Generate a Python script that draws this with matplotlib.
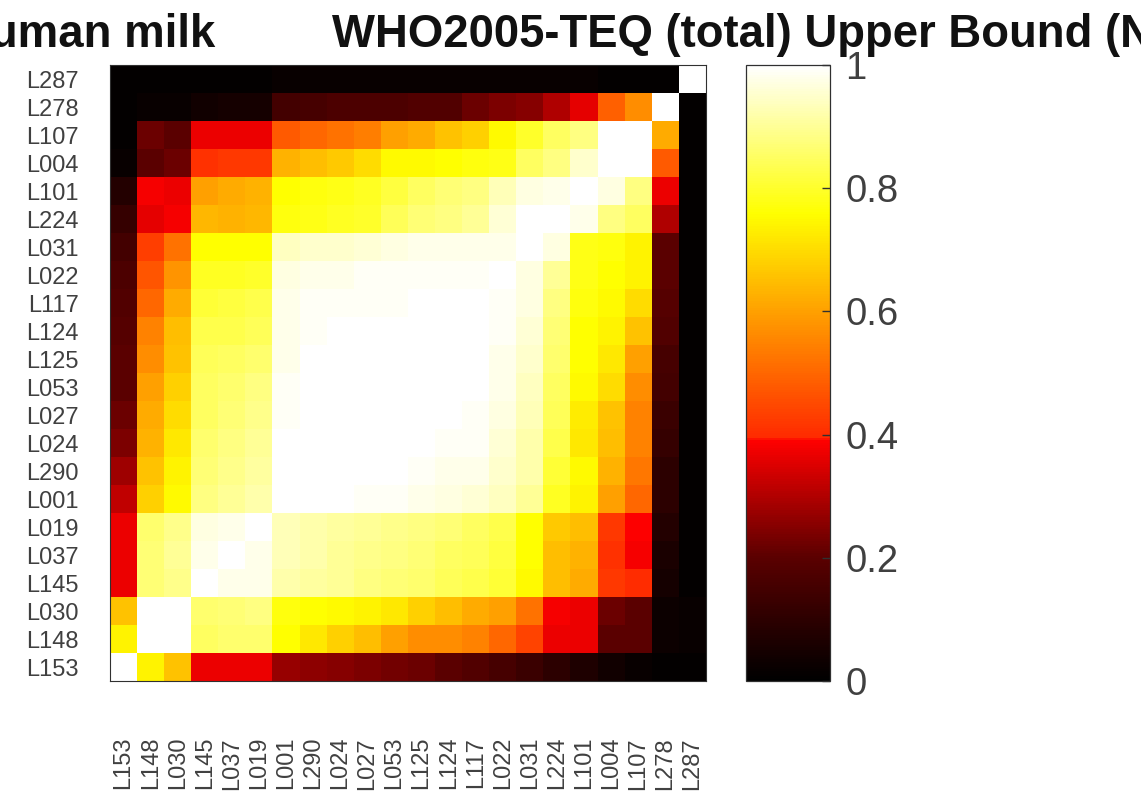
import matplotlib
matplotlib.use("Agg")
import matplotlib.pyplot as plt
import numpy as np
from matplotlib.colors import LinearSegmentedColormap

plt.rcParams['font.family'] = ['Liberation Sans', 'DejaVu Sans']

labels = ["L153","L148","L030","L145","L037","L019","L001","L290","L024","L027","L053",
          "L125","L124","L117","L022","L031","L224","L101","L004","L107","L278","L287"]

# rows listed top to bottom, columns left to right
values = [
 [.01,.01,.01,.01,.01,.01,.02,.02,.02,.02,.02,.02,.02,.02,.02,.02,.02,.02,.01,.01,.01,1],
 [.01,.02,.02,.04,.05,.05,.15,.16,.17,.17,.17,.18,.18,.22,.24,.25,.30,.36,.49,.57,1,.01],
 [.01,.22,.20,.37,.37,.37,.48,.50,.52,.54,.60,.62,.66,.68,.75,.80,.85,.88,1,1,.62,.01],
 [.02,.20,.22,.41,.42,.42,.63,.65,.67,.70,.75,.75,.76,.77,.78,.85,.88,.95,1,1,.48,.01],
 [.08,.38,.37,.60,.62,.63,.76,.77,.78,.79,.82,.85,.87,.88,.93,.97,.98,1,.97,.88,.37,.01],
 [.12,.36,.38,.64,.63,.64,.77,.78,.79,.80,.84,.87,.88,.90,.96,1,1,.98,.88,.85,.30,.01],
 [.15,.43,.52,.76,.76,.76,.94,.95,.95,.96,.97,.98,.98,.98,.98,1,.97,.78,.77,.74,.20,.01],
 [.17,.47,.58,.79,.79,.80,.97,.98,.98,.99,.99,.99,.99,.99,1,.97,.90,.78,.76,.74,.20,.01],
 [.18,.50,.62,.81,.82,.83,.98,.99,.99,.99,.99,1,1,1,.99,.97,.88,.77,.75,.70,.19,.01],
 [.19,.55,.65,.83,.83,.84,.98,.99,1,1,1,1,1,1,.99,.96,.87,.76,.74,.66,.18,.01],
 [.20,.57,.66,.84,.85,.86,.98,1,1,1,1,1,1,1,.98,.95,.86,.76,.72,.60,.16,.01],
 [.20,.60,.68,.85,.86,.88,.99,1,1,1,1,1,1,1,.98,.94,.85,.75,.70,.57,.15,.01],
 [.22,.62,.70,.85,.87,.89,.99,1,1,1,1,1,1,.99,.97,.93,.84,.73,.66,.55,.13,.01],
 [.24,.63,.72,.86,.88,.90,1,1,1,1,1,1,.99,.99,.96,.92,.83,.72,.65,.55,.12,.01],
 [.28,.66,.74,.87,.89,.91,1,1,1,1,1,.99,.98,.98,.95,.92,.81,.75,.63,.53,.10,.01],
 [.32,.68,.75,.88,.90,.92,1,1,1,.99,.99,.98,.97,.96,.94,.90,.79,.74,.60,.50,.10,.01],
 [.37,.86,.89,.97,.98,1,.93,.92,.91,.90,.89,.88,.87,.85,.83,.76,.67,.65,.42,.39,.08,.01],
 [.37,.87,.90,.98,1,.98,.93,.92,.90,.89,.88,.87,.85,.84,.82,.76,.65,.63,.41,.38,.06,.01],
 [.37,.87,.89,1,.98,.98,.92,.91,.90,.88,.87,.86,.84,.83,.81,.75,.65,.62,.42,.40,.05,.01],
 [.66,1,1,.86,.87,.88,.77,.76,.75,.74,.72,.68,.65,.62,.60,.52,.38,.37,.22,.20,.03,.02],
 [.74,1,1,.85,.86,.86,.76,.72,.68,.65,.60,.57,.57,.55,.50,.44,.37,.37,.20,.20,.03,.02],
 [1,.74,.66,.37,.37,.37,.27,.26,.25,.24,.23,.22,.20,.18,.16,.13,.10,.07,.04,.02,.01,.01],
]

cbar_ticks = [0, 0.2, 0.4, 0.6, 0.8, 1]
cbar_ticklabels = ["0", "0.2", "0.4", "0.6", "0.8", "1"]
cmap_nodes = [(0, "#000000"), (0.199, "#5a0000"), (0.39, "#ff0000"), (0.395, "#ff2a00"),
              (0.6, "#ffa000"), (0.76, "#ffff00"), (1, "#ffffff")]
title_left = "Human milk"
title_right = "WHO2005-TEQ (total) Upper Bound (N"

W, H = 1141, 798
fig = plt.figure(figsize=(W/100, H/100), dpi=100)
cmap = LinearSegmentedColormap.from_list("hotlike", cmap_nodes, N=256)

def box(x0, y0, x1, y1):
    return [x0/W, 1-y1/H, (x1-x0)/W, (y1-y0)/H]

ax = fig.add_axes(box(110, 65, 706, 681))
n = len(labels)
im = ax.imshow(np.array(values), cmap=cmap, vmin=0, vmax=1, aspect='auto', interpolation='nearest')
ax.set_xticks(range(n))
ax.set_xticklabels(labels, rotation=90, fontsize=17, color="#404040")
ax.set_yticks(range(n))
ax.set_yticklabels(labels[::-1], fontsize=17, color="#404040")
ax.tick_params(length=0, axis='y', pad=31/1.39)
ax.tick_params(length=0, axis='x', pad=56/1.39)
for s in ax.spines.values():
    s.set_linewidth(0.8)
    s.set_color("#303030")

cax = fig.add_axes(box(746, 65, 830, 681))
cb = fig.colorbar(im, cax=cax)
cb.set_ticks(cbar_ticks)
cb.set_ticklabels(cbar_ticklabels)
cax.tick_params(direction='in', length=6, width=1, labelsize=27.5, labelcolor="#404040", color="#303030", pad=11)
cb.outline.set_linewidth(0.9)
cb.outline.set_edgecolor("#303030")

fig.text(215/W, 1-47/H, title_left, fontsize=32.8, fontweight='bold', ha='right', va='baseline', color="#111111")
fig.text(332/W, 1-47/H, title_right, fontsize=32.8, fontweight='bold', ha='left', va='baseline', color="#111111")

fig.savefig("out.png", dpi=100)
